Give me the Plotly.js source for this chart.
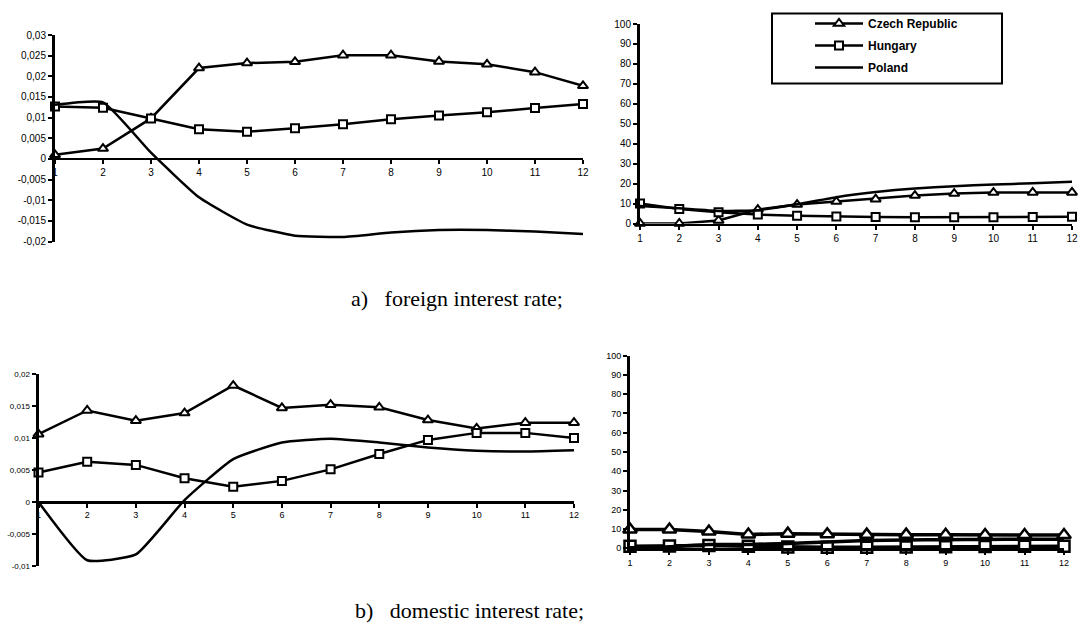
<!DOCTYPE html>
<html>
<head>
<meta charset="utf-8">
<script src="https://cdn.plot.ly/plotly-3.0.1.min.js"></script>
<style>html,body{margin:0;padding:0;background:#fff;}#chart{width:1080px;height:637px;}</style>
</head>
<body>
<div id="chart"></div>
<script>
// ---- data ----
const months = [1, 2, 3, 4, 5, 6, 7, 8, 9, 10, 11, 12];
const monthLabels = ['1','2','3','4','5','6','7','8','9','10','11','12'];
const seriesNames = ['Czech Republic', 'Hungary', 'Poland'];

// a) foreign interest rate – impulse responses
const foreignCzech   = [0.0010, 0.0025, 0.0098, 0.0220, 0.0232, 0.0235, 0.0251, 0.0251, 0.0236, 0.0229, 0.0210, 0.0177];
const foreignHungary = [0.0127, 0.0124, 0.0098, 0.0072, 0.0066, 0.0074, 0.0084, 0.0096, 0.0105, 0.0113, 0.0123, 0.0133];
const foreignPoland  = [0.0131, 0.0137, 0.0015, -0.0093, -0.0159, -0.0186, -0.0189, -0.0178, -0.0172, -0.0172, -0.0176, -0.0182];
// a) foreign interest rate – variance decomposition
const foreignVdCzech   = [0, 0, 1.5, 7.0, 9.5, 11.0, 12.2, 14.0, 15.0, 15.5, 15.6, 15.6];
const foreignVdHungary = [10.0, 7.3, 5.7, 4.5, 3.9, 3.5, 3.2, 3.1, 3.1, 3.1, 3.2, 3.4];
const foreignVdPoland  = [8.8, 7.6, 6.3, 6.7, 9.6, 13.2, 15.8, 17.6, 18.7, 19.5, 20.2, 20.9];

// b) domestic interest rate – impulse responses
const domesticCzech   = [0.0106, 0.0143, 0.0127, 0.0139, 0.0182, 0.0147, 0.0152, 0.0148, 0.0128, 0.0115, 0.0124, 0.0124];
const domesticHungary = [0.0046, 0.0063, 0.0058, 0.0037, 0.0024, 0.0033, 0.0051, 0.0075, 0.0097, 0.0108, 0.0108, 0.0100];
const domesticPoland  = [0.0000, -0.0091, -0.0082, 0.0003, 0.0067, 0.0093, 0.0099, 0.0093, 0.0085, 0.0080, 0.0079, 0.0081];
// b) domestic interest rate – variance decomposition
const domesticVdCzech   = [9.8, 9.8, 8.7, 7.2, 7.6, 7.3, 7.1, 7.1, 7.0, 6.9, 6.9, 6.9];
const domesticVdHungary = [1.0, 1.2, 1.5, 1.0, 0.7, 0.6, 0.6, 0.7, 0.8, 0.9, 1.0, 1.0];
const domesticVdPoland  = [0.3, 0.8, 2.0, 2.0, 2.5, 3.3, 4.0, 4.3, 4.5, 4.6, 4.7, 4.7];

// tick labels
const tlVals = [-0.02, -0.015, -0.01, -0.005, 0, 0.005, 0.01, 0.015, 0.02, 0.025, 0.03];
const tlText = ['-0,02','-0,015','-0,01','-0,005','0','0,005','0,01','0,015','0,02','0,025','0,03'];
const blVals = [-0.01, -0.005, 0, 0.005, 0.01, 0.015, 0.02];
const blText = ['-0,01','-0,005','0','0,005','0,01','0,015','0,02'];
const pctVals = [0, 10, 20, 30, 40, 50, 60, 70, 80, 90, 100];
const pctText = ['0','10','20','30','40','50','60','70','80','90','100'];

const captionA = 'a)\u00a0\u00a0 foreign interest rate;';
const captionB = 'b)\u00a0\u00a0 domestic interest rate;';

// ---- traces ----
function makeTraces(cz, hu, pl, xa, ya, big, legend) {
  const lw = big ? 3.5 : 2.5;
  const ms = big ? 12 : 9;
  const mlw = big ? 2.5 : 2;
  return [
    {x: months, y: cz, xaxis: xa, yaxis: ya, name: seriesNames[0], legendgroup: 'g1', showlegend: legend,
     mode: 'lines+markers', cliponaxis: false,
     line: {color: 'black', width: lw},
     marker: {symbol: 'triangle-up', size: ms, color: 'white', line: {color: 'black', width: mlw}}},
    {x: months, y: hu, xaxis: xa, yaxis: ya, name: seriesNames[1], legendgroup: 'g2', showlegend: legend,
     mode: 'lines+markers', cliponaxis: false,
     line: {color: 'black', width: lw},
     marker: {symbol: 'square', size: ms - 1, color: 'white', line: {color: 'black', width: mlw}}},
    {x: months, y: pl, xaxis: xa, yaxis: ya, name: seriesNames[2], legendgroup: 'g3', showlegend: legend,
     mode: 'lines', cliponaxis: false,
     line: {color: 'black', width: lw, shape: 'spline', smoothing: 0.45}}
  ];
}

const data = [].concat(
  makeTraces(foreignCzech, foreignHungary, foreignPoland, 'x', 'y', false, false),
  makeTraces(foreignVdCzech, foreignVdHungary, foreignVdPoland, 'x2', 'y2', false, true),
  makeTraces(domesticCzech, domesticHungary, domesticPoland, 'x3', 'y3', false, false),
  makeTraces(domesticVdCzech, domesticVdHungary, domesticVdPoland, 'x4', 'y4', true, false)
);

// ---- layout ----
const W = 1080, H = 637;
const px = v => v / W;
const py = v => 1 - v / H;
const tickFont = {family: 'Liberation Sans, Arial, sans-serif', size: 10, color: 'black'};

function xAxis(dom, anchorY, freePos, fontSize) {
  const a = {domain: dom, range: [1, 12], tickvals: months, ticktext: monthLabels,
    showline: true, linecolor: 'black', linewidth: 2.5, showgrid: false, zeroline: false,
    ticks: 'outside', ticklen: 4, tickwidth: 2, tickcolor: 'black',
    tickfont: Object.assign({}, tickFont, {size: fontSize}), fixedrange: true};
  if (freePos !== null) { a.anchor = 'free'; a.position = freePos; } else { a.anchor = anchorY; }
  return a;
}
function yAxis(dom, anchorX, range, vals, text, fontSize) {
  return {domain: dom, range: range, anchor: anchorX, tickvals: vals, ticktext: text,
    showline: true, linecolor: 'black', linewidth: 3, showgrid: false, zeroline: false,
    ticks: 'outside', ticklen: 4, tickwidth: 2, tickcolor: 'black',
    tickfont: Object.assign({}, tickFont, {size: fontSize}), fixedrange: true};
}

const dom1y = [py(241.5), py(35)];
const dom3y = [py(566), py(374)];
const zero1 = dom1y[0] + (0 - (-0.02)) / 0.05 * (dom1y[1] - dom1y[0]);
const zero3 = dom3y[0] + (0 - (-0.01)) / 0.03 * (dom3y[1] - dom3y[0]);

const layout = {
  width: W, height: H,
  margin: {l: 0, r: 0, t: 0, b: 0},
  paper_bgcolor: 'white', plot_bgcolor: 'white',
  separators: ', ',
  showlegend: true,
  xaxis:  xAxis([px(55), px(583)], 'y', zero1, 10),
  yaxis:  yAxis(dom1y, 'x', [-0.02, 0.03], tlVals, tlText, 10),
  xaxis2: xAxis([px(640), px(1072)], 'y2', null, 10),
  yaxis2: yAxis([py(223.5), py(24)], 'x2', [0, 100], pctVals, pctText, 10),
  xaxis3: xAxis([px(38.5), px(574)], 'y3', zero3, 9),
  yaxis3: yAxis(dom3y, 'x3', [-0.01, 0.02], blVals, blText, 8),
  xaxis4: xAxis([px(630), px(1064)], 'y4', null, 9),
  yaxis4: yAxis([py(548.3), py(355.7)], 'x4', [0, 100], pctVals, pctText, 9),
  legend: {x: px(810), y: py(9), xanchor: 'left', yanchor: 'top',
    bgcolor: 'rgba(0,0,0,0)', borderwidth: 0, tracegroupgap: 3, itemwidth: 48,
    font: {family: 'Liberation Sans, Arial, sans-serif', size: 12, color: 'black', weight: 'bold'}},
  shapes: [
    {type: 'rect', xref: 'paper', yref: 'paper', x0: px(772), x1: px(1002), y0: py(83.5), y1: py(13.5),
     line: {color: 'black', width: 2}, fillcolor: 'rgba(0,0,0,0)'}
  ],
  annotations: [
    {text: captionA, xref: 'paper', yref: 'paper', x: px(457), y: py(298), xanchor: 'center', yanchor: 'middle',
     showarrow: false, font: {family: 'Liberation Serif, Times New Roman, serif', size: 22, color: 'black'}},
    {text: captionB, xref: 'paper', yref: 'paper', x: px(469), y: py(610), xanchor: 'center', yanchor: 'middle',
     showarrow: false, font: {family: 'Liberation Serif, Times New Roman, serif', size: 22, color: 'black'}}
  ]
};

Plotly.newPlot('chart', data, layout, {staticPlot: true, displayModeBar: false});
</script>
</body>
</html>
